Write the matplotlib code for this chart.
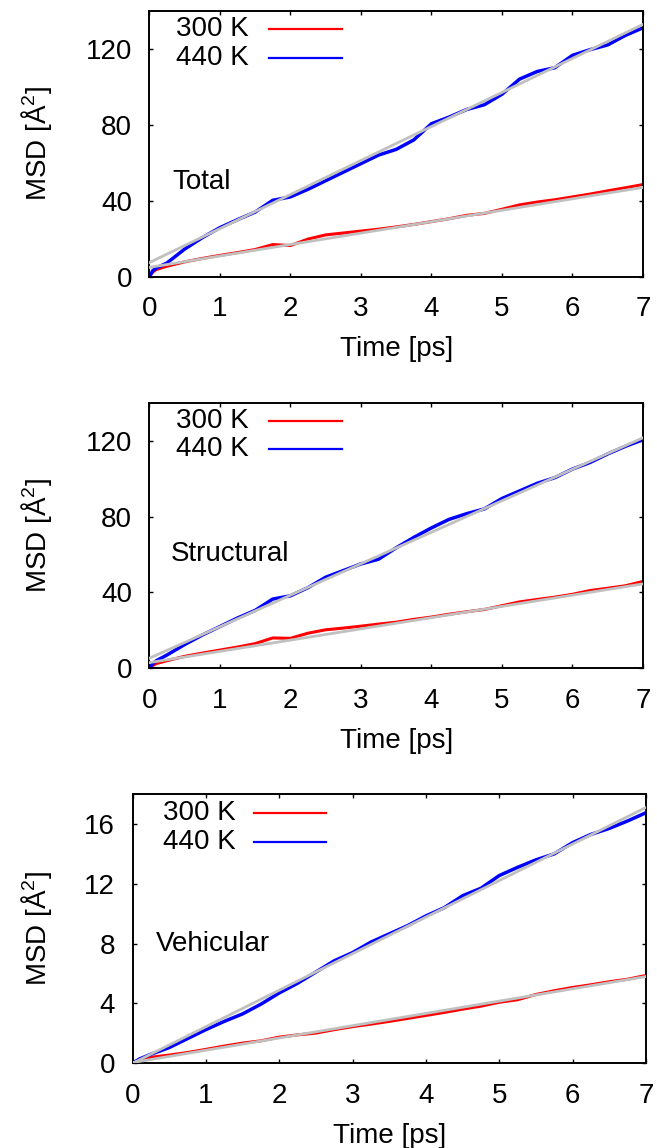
import matplotlib
matplotlib.use("Agg")
import matplotlib.pyplot as plt

plt.rcParams['font.family'] = ['Liberation Sans', 'DejaVu Sans']
plt.rcParams['mathtext.fontset'] = 'custom'
plt.rcParams['mathtext.rm'] = 'Liberation Sans'
plt.rcParams['mathtext.it'] = 'Liberation Sans'

# ---- data ----
time_ps = [0, 0.05, 0.1, 0.25, 0.5, 0.75, 1.0, 1.25, 1.5, 1.75, 2.0, 2.25, 2.5, 2.75,
           3.0, 3.25, 3.5, 3.75, 4.0, 4.25, 4.5, 4.75, 5.0, 5.25, 5.5, 5.75, 6.0,
           6.25, 6.5, 6.75, 7.0]

total_300 = [0, 2.5, 3.8, 5.5, 7.8, 9.6, 11.2, 12.7, 14.3, 16.9, 16.4, 19.8, 22.0, 23.0,
             24.0, 25.0, 26.2, 27.5, 29.0, 30.5, 32.3, 33.3, 35.5, 37.8, 39.3, 40.5, 42.0,
             43.5, 45.2, 46.8, 48.5]
total_440 = [0, 3.2, 4.6, 7.2, 14.5, 20.5, 25.8, 30.0, 34.0, 40.2, 42.0, 46.0, 50.5, 55.0,
             59.5, 64.0, 67.0, 72.0, 80.5, 84.0, 88.0, 90.5, 96.0, 104.0, 108.0, 110.0, 116.5,
             119.5, 122.0, 127.0, 131.0]

struct_300 = [0, 1.5, 2.5, 4.0, 6.3, 8.0, 9.6, 11.2, 13.0, 16.0, 15.8, 18.5, 20.3, 21.2,
              22.2, 23.3, 24.3, 25.8, 27.0, 28.5, 29.8, 31.0, 33.0, 35.0, 36.3, 37.5, 39.0,
              41.0, 42.2, 43.5, 45.8]
struct_440 = [0, 2.5, 4.0, 7.0, 12.5, 17.5, 22.0, 26.5, 30.5, 36.5, 38.2, 42.5, 48.0, 51.5,
              55.0, 57.5, 63.5, 69.0, 74.0, 78.5, 81.5, 84.0, 89.5, 93.5, 97.5, 100.5, 105.0,
              108.5, 113.0, 117.0, 120.5]

vehic_300 = [0, 0.15, 0.25, 0.4, 0.55, 0.72, 0.93, 1.15, 1.35, 1.5, 1.75, 1.9, 2.02, 2.25,
             2.45, 2.62, 2.8, 3.0, 3.2, 3.4, 3.62, 3.82, 4.08, 4.25, 4.6, 4.85, 5.07,
             5.25, 5.45, 5.62, 5.87]
vehic_440 = [0, 0.15, 0.3, 0.6, 1.05, 1.65, 2.25, 2.8, 3.3, 3.95, 4.7, 5.35, 6.1, 6.85,
             7.4, 8.1, 8.65, 9.2, 9.85, 10.4, 11.2, 11.7, 12.55, 13.1, 13.6, 14.0, 14.75,
             15.3, 15.7, 16.2, 16.75]

# linear fits: value at t=0 and t=7
fit_t = [0, 7]
fit_total_300 = [4.9, 47.0]
fit_total_440 = [7.4, 132.8]
fit_struct_300 = [3.0, 44.5]
fit_struct_440 = [5.3, 121.5]
fit_vehic_300 = [0.05, 5.8]
fit_vehic_440 = [0.0, 17.1]

panel_names = ['Total', 'Structural', 'Vehicular']
legend_labels = ['300 K', '440 K']
x_ticks = [0, 1, 2, 3, 4, 5, 6, 7]
y_ticks_big = [0, 40, 80, 120]
y_ticks_small = [0, 4, 8, 12, 16]

# ---- figure ----
W, H = 657, 1148
fig = plt.figure(figsize=(W / 100, H / 100), dpi=100)

def rect(l, r, t, b):
    return [l / W, (H - b) / H, (r - l) / W, (b - t) / H]

panels = [
    dict(rect=rect(149.3, 643.0, 10.7, 276.7), ymax=140, yt=y_ticks_big,
         s300=total_300, s440=total_440, f300=fit_total_300, f440=fit_total_440,
         name=panel_names[0], lab=(0.33, 50.0)),
    dict(rect=rect(149.3, 643.0, 402.7, 668.3), ymax=140, yt=y_ticks_big,
         s300=struct_300, s440=struct_440, f300=fit_struct_300, f440=fit_struct_440,
         name=panel_names[1], lab=(0.31, 60.4)),
    dict(rect=rect(132.5, 646.0, 794.0, 1063.3), ymax=18, yt=y_ticks_small,
         s300=vehic_300, s440=vehic_440, f300=fit_vehic_300, f440=fit_vehic_440,
         name=panel_names[2], lab=(0.32, 8.0)),
]

FS = 20
red = '#ff0000'
blue = '#0000ff'
gray = '#c0c0c0'

for p in panels:
    ax = fig.add_axes(p['rect'])
    ax.plot(time_ps, p['s300'], color=red, lw=2.2, zorder=2, solid_joinstyle='round')
    ax.plot(time_ps, p['s440'], color=blue, lw=2.5, zorder=2, solid_joinstyle='round')
    ax.plot(fit_t, p['f300'], color=gray, lw=2.0, zorder=3)
    ax.plot(fit_t, p['f440'], color=gray, lw=2.0, zorder=3)

    ax.set_xlim(0, 7)
    ax.set_ylim(0, p['ymax'])
    ax.set_xticks(x_ticks)
    ax.set_yticks(p['yt'])
    ax.tick_params(direction='in', top=True, right=True, length=2.8, width=1.0,
                   labelsize=FS)
    ax.tick_params(axis='x', pad=14.0)
    ax.tick_params(axis='y', pad=12.5)
    for s in ax.spines.values():
        s.set_linewidth(1.4)

    ax.set_xlabel('Time [ps]', fontsize=FS, labelpad=10)

    # y label placed centred at x=37 px
    bb = p['rect']
    fig.text(37 / W, bb[1] + bb[3] / 2, 'MSD [Å$^{2}$]', rotation=90,
             ha='center', va='center', fontsize=FS)

    ax.text(p['lab'][0], p['lab'][1], p['name'], ha='left', va='center', fontsize=FS)

    # key (legend) in axes fraction
    if p['ymax'] == 18:
        tx, lx0, lx1, rows = 0.2007, 0.236, 0.377, (0.929, 0.822)
    else:
        tx, lx0, lx1, rows = 0.202, 0.243, 0.390, (0.932, 0.824)
    for lbl, col, ry in zip(legend_labels, [red, blue], rows):
        ax.text(tx, ry, lbl, transform=ax.transAxes, ha='right', va='center',
                fontsize=FS)
        ax.plot([lx0, lx1], [ry, ry], transform=ax.transAxes, color=col, lw=1.6)

fig.savefig('out.png', dpi=100)
